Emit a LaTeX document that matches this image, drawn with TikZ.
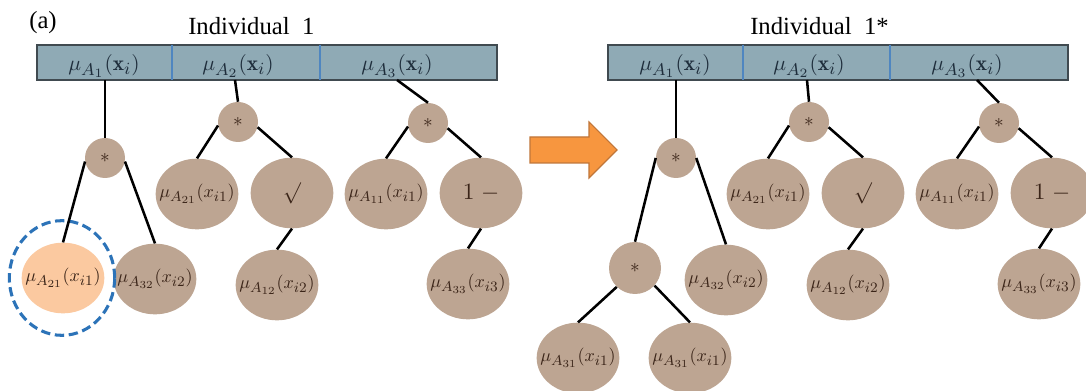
\documentclass[tikz,border=0pt]{standalone}
\usepackage{fontspec}
\usepackage{graphicx}
\newfontfamily\timesfont{Liberation Serif}
\usetikzlibrary{shapes.geometric}
\DeclareMathSizes{10}{10}{8}{6}
\newcommand{\barlab}[1]{\scalebox{1.6}{$#1$}}
\newcommand{\leaflab}[1]{\scalebox{1.35}{$#1$}}
\definecolor{barfill}{HTML}{8FAAB5}
\definecolor{barline}{HTML}{404A50}
\definecolor{divline}{HTML}{4F86C0}
\definecolor{nodefill}{HTML}{BDA592}
\definecolor{orangefill}{HTML}{FBC9A0}
\definecolor{dashblue}{HTML}{2C73B8}
\definecolor{arrowfill}{HTML}{F7963F}
\definecolor{arrowline}{HTML}{C0763A}
\definecolor{bartext}{HTML}{1F2E3C}
\definecolor{nodetext}{HTML}{3A2418}
\tikzset{
  opnode/.style={circle, fill=nodefill, minimum size=30pt, inner sep=0pt, text=nodetext},
  bigop/.style={opnode, minimum size=39pt},
  leaf/.style={ellipse, fill=nodefill, minimum width=62pt, minimum height=53pt, inner xsep=-10pt, inner ysep=0pt, text=nodetext},
  sel/.style={leaf, fill=orangefill},
  ring/.style={ellipse, draw=dashblue, line width=2.3pt, dash pattern=on 7pt off 3.5pt, minimum width=79pt, minimum height=86pt, inner sep=0pt},
  lbl/.style={text=bartext, inner sep=0pt, anchor=base},
  edge/.style={line width=1.9pt, black},
  title/.style={font=\timesfont\fontsize{18.5}{20}\selectfont, inner sep=0pt},
  barbox/.style={fill=barfill, draw=barline, line width=1.1pt},
  divider/.style={draw=divline, line width=1.4pt},
  bigarrow/.style={fill=arrowfill, draw=arrowline, line width=0.8pt, line join=miter}
}
\newcommand{\opstar}{\scalebox{1.45}{$*$}}
\newcommand{\opsqrt}{\scalebox{1.6}{$\surd$}}
\newcommand{\opminus}{\scalebox{1.75}{$1\;{-}$}}
\begin{document}
\begin{tikzpicture}[x=0.75pt, y=-0.75pt]
\useasboundingbox (0,0) rectangle (1086,391);
\clip (0,0) rectangle (1086,391);
\fill[white] (0,0) rectangle (1086,391);

% titles
\node[title, anchor=base] (lab) at (43,29) {(a)};
\node[title, anchor=base west] (tL) at (188,35) {Individual~~1};
\node[title, anchor=base west] (tR) at (750,35) {Individual~~1*};

% transition arrow
\draw[bigarrow] (530,137) -- (589,137) -- (589,122) -- (617,150) -- (589,178) -- (589,163) -- (530,163) -- cycle;

% ---------------- left panel ----------------
\draw[barbox] (37,45) rectangle (497,80);
\draw[divider] (172,45) -- (172,80);
\draw[divider] (320,45) -- (320,80);
\node[lbl] (c1) at (104,71) {\barlab{\mu_{A_1}(\mathbf{x}_i)}};
\node[lbl] (c2) at (238,71) {\barlab{\mu_{A_2}(\mathbf{x}_i)}};
\node[lbl] (c3) at (397,71) {\barlab{\mu_{A_3}(\mathbf{x}_i)}};
\coordinate (b1) at (105,80);
\coordinate (b2) at (235,80);
\coordinate (b3) at (397,80);

\node[opnode] (s1) at (105,158) {\opstar};
\node[sel] (o1) at (63,278) {\leaflab{\mu_{A_{21}}(x_{i1})}};
\node[leaf] (m32) at (155,279) {\leaflab{\mu_{A_{32}}(x_{i2})}};
\node[opnode] (s2) at (238,122) {\opstar};
\node[leaf] (a21) at (197,194) {\leaflab{\mu_{A_{21}}(x_{i1})}};
\node[leaf] (sq) at (292,193) {\opsqrt};
\node[leaf] (a12) at (277,285) {\leaflab{\mu_{A_{12}}(x_{i2})}};
\node[opnode] (s3) at (428,123) {\opstar};
\node[leaf] (a11) at (386,194) {\leaflab{\mu_{A_{11}}(x_{i1})}};
\node[leaf] (om) at (481,193) {\opminus};
\node[leaf] (a33) at (468,284) {\leaflab{\mu_{A_{33}}(x_{i3})}};
\node[ring] (h1) at (62,278) {};

\draw[edge] (b1) -- (s1.north);
\draw[edge] (s1.190) -- (o1.north);
\draw[edge] (s1.-10) -- (m32.north);
\draw[edge] (b2) -- (s2.north);
\draw[edge] (s2.190) -- (a21.north);
\draw[edge] (s2.-15) -- (sq.north);
\draw[edge] (sq.south) -- (a12.north);
\draw[edge] (b3) -- (s3.north);
\draw[edge] (s3.190) -- (a11.north);
\draw[edge] (s3.-15) -- (om.north);
\draw[edge] (om.south) -- (a33.north);

% ---------------- right panel ----------------
\begin{scope}[shift={(571,0)}]
\draw[barbox] (37,45) rectangle (497,80);
\draw[divider] (172,45) -- (172,80);
\draw[divider] (319,45) -- (319,80);
\node[lbl] (rc1) at (104,71) {\barlab{\mu_{A_1}(\mathbf{x}_i)}};
\node[lbl] (rc2) at (238,71) {\barlab{\mu_{A_2}(\mathbf{x}_i)}};
\node[lbl] (rc3) at (396,71) {\barlab{\mu_{A_3}(\mathbf{x}_i)}};
\coordinate (rb1) at (105,80);
\coordinate (rb2) at (236,80);
\coordinate (rb3) at (406,80);

\node[opnode] (rs1) at (105,158) {\opstar};
\node[bigop] (rt) at (64,268) {\opstar};
\node[leaf] (rm32) at (155,280) {\leaflab{\mu_{A_{32}}(x_{i2})}};
\node[leaf] (rl31) at (7,358) {\leaflab{\mu_{A_{31}}(x_{i1})}};
\node[leaf] (rr31) at (119,358) {\leaflab{\mu_{A_{31}}(x_{i1})}};
\node[opnode] (rs2) at (238,122) {\opstar};
\node[leaf] (ra21) at (197,194) {\leaflab{\mu_{A_{21}}(x_{i1})}};
\node[leaf] (rsq) at (292,193) {\opsqrt};
\node[leaf] (ra12) at (277,285) {\leaflab{\mu_{A_{12}}(x_{i2})}};
\node[opnode] (rs3) at (428,123) {\opstar};
\node[leaf] (ra11) at (386,194) {\leaflab{\mu_{A_{11}}(x_{i1})}};
\node[leaf] (rom) at (481,193) {\opminus};
\node[leaf] (ra33) at (468,284) {\leaflab{\mu_{A_{33}}(x_{i3})}};

\draw[edge] (rb1) -- (rs1.north);
\draw[edge] (rs1.west) -- (rt.north);
\draw[edge] (rs1.east) -- (rm32.north);
\draw[edge] (rt.226) -- (rl31.north);
\draw[edge] (rt.-42) -- (rr31.north);
\draw[edge] (rb2) -- (rs2.north);
\draw[edge] (rs2.190) -- (ra21.north);
\draw[edge] (rs2.-15) -- (rsq.north);
\draw[edge] (rsq.south) -- (ra12.north);
\draw[edge] (rb3) -- (rs3.north);
\draw[edge] (rs3.190) -- (ra11.north);
\draw[edge] (rs3.-15) -- (rom.north);
\draw[edge] (rom.south) -- (ra33.north);
\end{scope}
\end{tikzpicture}
\end{document}
